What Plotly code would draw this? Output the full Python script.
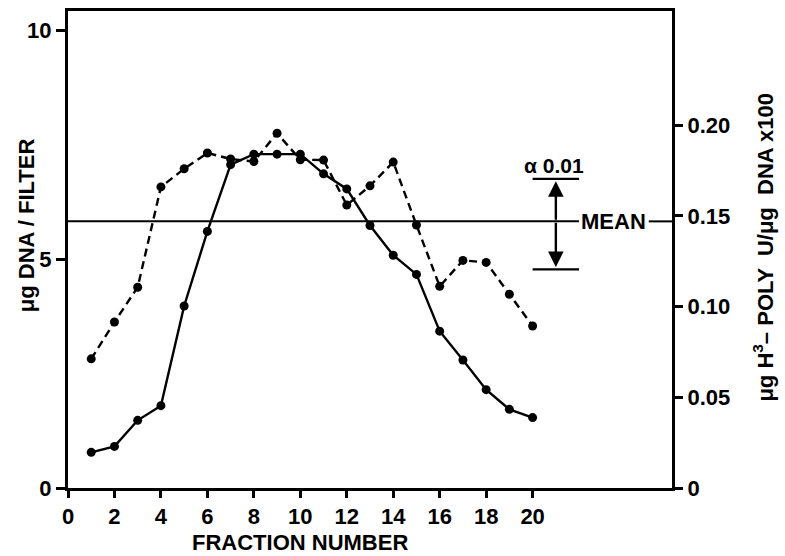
import plotly.graph_objects as go

fraction = list(range(1, 21))
dna_per_filter = [0.78, 0.91, 1.48, 1.80, 3.98, 5.61, 7.07, 7.30, 7.30, 7.30,
                  6.87, 6.54, 5.74, 5.09, 4.67, 3.43, 2.80, 2.15, 1.72, 1.54]
poly_u = [0.0712, 0.0915, 0.1107, 0.166, 0.176, 0.1847, 0.1814, 0.180, 0.1956, 0.181,
          0.1808, 0.156, 0.1666, 0.1797, 0.145, 0.1112, 0.1255, 0.1244, 0.1068, 0.0893]

x_ticks = list(range(0, 21, 2))
left_ticks = [0, 5, 10]
right_ticks = [0, 0.05, 0.10, 0.15, 0.20]
right_tick_text = ["0", "0.05", "0.10", "0.15", "0.20"]

MEAN = 5.83
ALPHA_UPPER = 6.76
ALPHA_LOWER = 4.78

FONT = "Liberation Sans, Arial, sans-serif"
TXT = dict(family=FONT, size=22, color="black", weight="bold")

fig = go.Figure()
fig.add_trace(go.Scatter(
    x=fraction, y=dna_per_filter, mode="lines+markers",
    line=dict(color="black", width=2.4),
    marker=dict(color="black", size=9), yaxis="y", showlegend=False))
fig.add_trace(go.Scatter(
    x=fraction, y=poly_u, mode="lines+markers",
    line=dict(color="black", width=2.4, dash="8px,5px"),
    marker=dict(color="black", size=9), yaxis="y2", showlegend=False))

# Mean line (broken where label sits)
fig.add_shape(type="line", xref="x", yref="y", x0=0, x1=22, y0=MEAN, y1=MEAN,
              line=dict(color="black", width=2))
fig.add_shape(type="line", xref="x", yref="y", x0=25, x1=26, y0=MEAN, y1=MEAN,
              line=dict(color="black", width=2))
# alpha bars
for v in (ALPHA_UPPER, ALPHA_LOWER):
    fig.add_shape(type="line", xref="x", yref="y", x0=20, x1=22, y0=v, y1=v,
                  line=dict(color="black", width=2.4))
# double arrow
fig.add_annotation(x=21, y=ALPHA_UPPER - 0.05, ax=21, ay=MEAN, xref="x", yref="y",
                   axref="x", ayref="y", showarrow=True, arrowhead=2, arrowsize=1.3,
                   arrowwidth=2.4, arrowcolor="black", text="")
fig.add_annotation(x=21, y=ALPHA_LOWER + 0.05, ax=21, ay=MEAN, xref="x", yref="y",
                   axref="x", ayref="y", showarrow=True, arrowhead=2, arrowsize=1.3,
                   arrowwidth=2.4, arrowcolor="black", text="")
fig.add_annotation(x=23.5, y=MEAN, xref="x", yref="y", text="MEAN", showarrow=False,
                   font=TXT)
fig.add_annotation(x=20.9, y=ALPHA_UPPER, xref="x", yref="y", text="α 0.01",
                   showarrow=False, yanchor="bottom", yshift=0,
                   font=dict(family=FONT, size=21, color="black", weight="bold"))

# axis titles
fig.add_annotation(x=10, y=-0.1146, xref="x", yref="paper", text="FRACTION NUMBER",
                   showarrow=False, yanchor="middle", font=TXT)
fig.add_annotation(x=-0.0695, y=0.551, xref="paper", yref="paper", text="μg DNA / FILTER",
                   showarrow=False, textangle=-90, xanchor="center", yanchor="middle",
                   font=TXT)
fig.add_annotation(x=1.1507, y=0.504, xref="paper", yref="paper",
                   text="μg H<sup>3</sup>– POLY  U/μg  DNA x100",
                   showarrow=False, textangle=-90, xanchor="center", yanchor="middle",
                   font=TXT)

fig.update_layout(
    width=785, height=556,
    margin=dict(l=68, r=113, t=8, b=68),
    paper_bgcolor="white", plot_bgcolor="white",
    font=dict(family=FONT, size=21, color="black"),
    xaxis=dict(range=[0, 26], tickvals=x_ticks, ticks="outside", ticklen=7,
               tickwidth=2.5, tickcolor="black", showline=True, linewidth=3,
               linecolor="black", mirror=True, showgrid=False, zeroline=False,
               tickfont=TXT),
    yaxis=dict(range=[0, 10.43], tickvals=left_ticks, ticks="outside", ticklen=9,
               tickwidth=2.5, tickcolor="black", showline=True, linewidth=3,
               linecolor="black", showgrid=False, zeroline=False, tickfont=TXT),
    yaxis2=dict(range=[0, 0.263], tickvals=right_ticks, ticktext=right_tick_text,
                overlaying="y", side="right", ticks="outside", ticklen=8,
                tickwidth=2.5, tickcolor="black", showline=True, linewidth=3,
                linecolor="black", showgrid=False, zeroline=False, tickfont=TXT),
)

fig.write_html("out.html", config={"displayModeBar": False},
               post_script="document.body.style.margin='0px';")
